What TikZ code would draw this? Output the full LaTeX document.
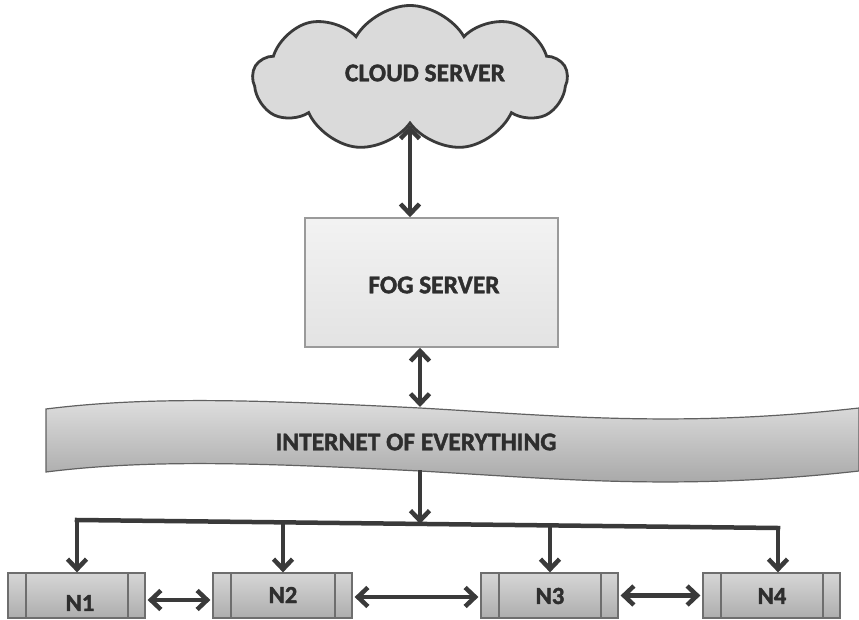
\documentclass[tikz,border=0pt]{standalone}
\usepackage{fontspec}
\setmainfont{Carlito}[BoldFeatures={FakeBold=1.6}]
\usetikzlibrary{shapes.symbols,arrows.meta}
\definecolor{ink}{HTML}{3A3A3A}
\definecolor{txt}{HTML}{2E2E2E}
\definecolor{cloudfill}{HTML}{DADADA}
\definecolor{boxedge}{HTML}{6E6E6E}
\definecolor{fogedge}{HTML}{9A9A9A}
\tikzset{
  conn/.style={draw=ink, line width=4.5pt},
  dbl/.style={conn, {Straight Barb[length=10pt,width=19pt]}-{Straight Barb[length=10pt,width=19pt]}},
  one/.style={conn, -{Straight Barb[length=10pt,width=19pt]}},
  lbl/.style={font=\bfseries\fontsize{25.5}{26}\selectfont, text=txt, inner sep=0pt},
  nlbl/.style={font=\bfseries\fontsize{24.5}{25}\selectfont, text=txt, inner sep=0pt},
  cloudshape/.style={cloud, cloud puffs=9, cloud puff arc=120, aspect=2.15, draw=ink, line width=2.8pt, fill=cloudfill, minimum width=314pt, minimum height=146pt, inner sep=0pt},
  fogbox/.style={draw=fogedge, line width=1.5pt, top color=white!95!black, bottom color=white!89!black, minimum width=253pt, minimum height=129pt, inner sep=0pt},
  nbox/.style={draw=boxedge, line width=1.2pt, top color=white!84!black, bottom color=white!68!black, minimum height=45pt, inner sep=0pt,
    path picture={
      \draw[boxedge, line width=1.2pt] ([xshift=18pt]path picture bounding box.north west) -- ([xshift=18pt]path picture bounding box.south west);
      \draw[boxedge, line width=1.2pt] ([xshift=-17pt]path picture bounding box.north east) -- ([xshift=-17pt]path picture bounding box.south east);
    }},
  banner/.style={draw=ink!80, line width=1.2pt, top color=white!88!black, bottom color=white!64!black},
}
\begin{document}
\begin{tikzpicture}[x=1pt,y=-1pt]
\useasboundingbox (0,0) rectangle (859,620);
% cloud
\node[cloudshape] (cloud) at (410,78.5) {};
\node[lbl] (cloudtxt) at (425,73) {CLOUD SERVER};
% fog server
\node[fogbox] (fog) at (431.5,282.5) {};
\node[lbl] (fogtxt) at (434,285) {FOG SERVER};
% internet banner
\path[banner] (46,409) .. controls (150,396) and (260,400) .. (420,408)
  .. controls (560,416) and (680,428) .. (859,408)
  -- (859,471) .. controls (680,491) and (560,479) .. (420,471)
  .. controls (260,463) and (150,459) .. (46,472) -- cycle;
\node[lbl] (iet) at (416,442) {INTERNET OF EVERYTHING};
\coordinate (itop) at (420,407);
\coordinate (ibot) at (420,470);
% bus
\coordinate (b1) at (77,520);
\coordinate (b2) at (283,522.35);
\coordinate (b3) at (550,525.4);
\coordinate (b4) at (778,528);
\coordinate (bc) at (420,523.9);
% nodes
\node[nbox, minimum width=137pt] (n1) at (76.5,595.5) {};
\node[nbox, minimum width=139pt] (n2) at (282.5,595.5) {};
\node[nbox, minimum width=137pt] (n3) at (549.5,595.5) {};
\node[nbox, minimum width=137pt] (n4) at (771.5,595.5) {};
\node[nlbl] (t1) at (80,603) {N1};
\node[nlbl] (t2) at (283,595) {N2};
\node[nlbl] (t3) at (550,596) {N3};
\node[nlbl] (t4) at (772,596) {N4};
% connectors
\draw[dbl] (cloud.south -| 410,0) -- (fog.north -| 410,0);
\draw[dbl] (fog.south -| itop) -- (itop);
\draw[one] (ibot) -- (bc);
\draw[conn, line cap=rect] (b1) -- (b4);
\draw[one] (b1) -- (b1 |- n1.north);
\draw[one] (b2) -- (b2 |- n2.north);
\draw[one] (b3) -- (b3 |- n3.north);
\draw[one] (b4) -- (b4 |- n4.north);
\draw[dbl] ([yshift=-4.5pt,xshift=2pt]n1.east) -- ([yshift=-4.5pt,xshift=-2pt]n2.west);
\draw[dbl] ([yshift=-1.5pt,xshift=2pt]n2.east) -- ([yshift=-1.5pt,xshift=-2pt]n3.west);
\draw[dbl] ([xshift=2pt]n3.east) -- ([xshift=-2pt]n4.west);
\end{tikzpicture}
\end{document}
